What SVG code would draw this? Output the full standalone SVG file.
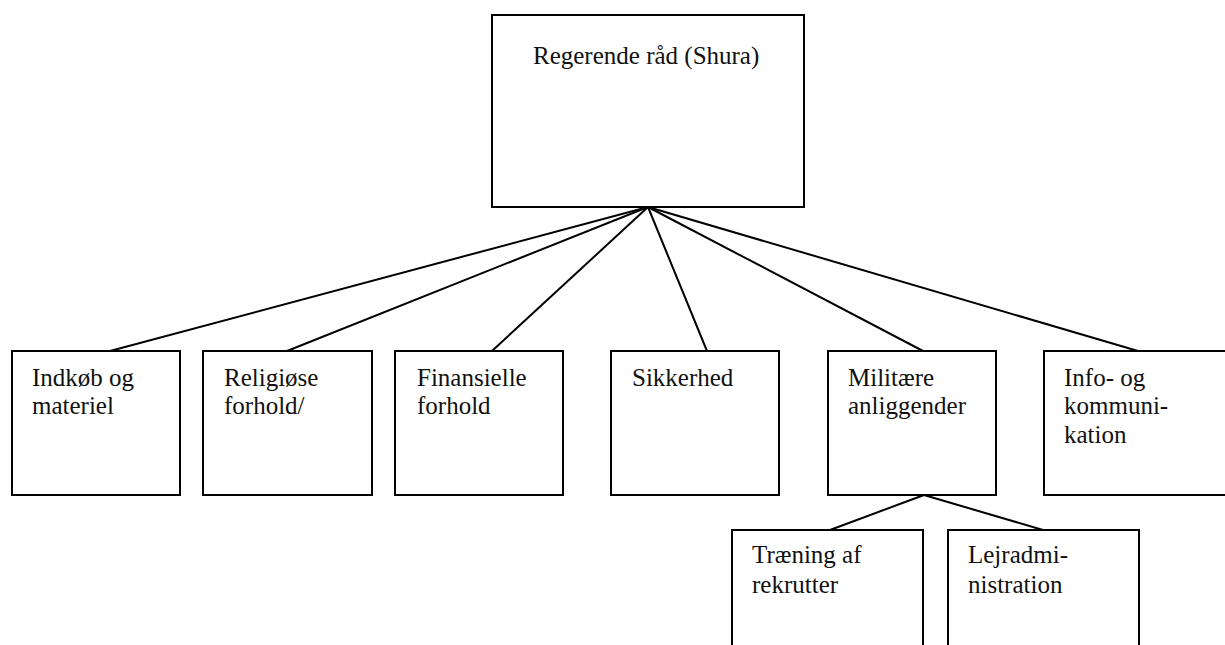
<svg xmlns="http://www.w3.org/2000/svg" width="1225" height="645" viewBox="0 0 1225 645">
<style>
.box{fill:#fff;stroke:#000;stroke-width:2}
.ln{stroke:#000;stroke-width:2;fill:none}
text{font-family:"Liberation Serif","Times New Roman",serif;font-size:25px;fill:#111}
</style>
<rect width="1225" height="645" fill="#fff"/>
<g id="connectors">
<line class="ln" x1="648" y1="207" x2="110" y2="351"/>
<line class="ln" x1="648" y1="207" x2="287" y2="351"/>
<line class="ln" x1="648" y1="207" x2="492" y2="351"/>
<line class="ln" x1="648" y1="207" x2="707" y2="351"/>
<line class="ln" x1="648" y1="207" x2="923" y2="351"/>
<line class="ln" x1="648" y1="207" x2="1138" y2="351"/>
<line class="ln" x1="924" y1="495" x2="830" y2="530"/>
<line class="ln" x1="924" y1="495" x2="1043" y2="530"/>
</g>
<g id="shura">
<rect class="box" x="492" y="15" width="312" height="192"/>
<text x="533" y="64">Regerende råd (Shura)</text>
</g>
<g id="indkob">
<rect class="box" x="12" y="351" width="168" height="144"/>
<text x="32" y="386">Indkøb og</text>
<text x="32" y="414">materiel</text>
</g>
<g id="religiose">
<rect class="box" x="203" y="351" width="169" height="144"/>
<text x="224" y="386">Religiøse</text>
<text x="224" y="414">forhold/</text>
</g>
<g id="finansielle">
<rect class="box" x="395" y="351" width="168" height="144"/>
<text x="417" y="386">Finansielle</text>
<text x="417" y="414">forhold</text>
</g>
<g id="sikkerhed">
<rect class="box" x="611" y="351" width="168" height="144"/>
<text x="632" y="386">Sikkerhed</text>
</g>
<g id="militaere">
<rect class="box" x="828" y="351" width="168" height="144"/>
<text x="848" y="386">Militære</text>
<text x="848" y="414">anliggender</text>
</g>
<g id="info">
<rect class="box" x="1044" y="351" width="190" height="144"/>
<text x="1064" y="386">Info- og</text>
<text x="1064" y="414">kommuni-</text>
<text x="1064" y="443">kation</text>
</g>
<g id="traening">
<rect class="box" x="732" y="530" width="191" height="130"/>
<text x="752" y="563">Træning af</text>
<text x="752" y="593">rekrutter</text>
</g>
<g id="lejr">
<rect class="box" x="948" y="530" width="191" height="130"/>
<text x="968" y="563">Lejradmi-</text>
<text x="968" y="593">nistration</text>
</g>
</svg>
